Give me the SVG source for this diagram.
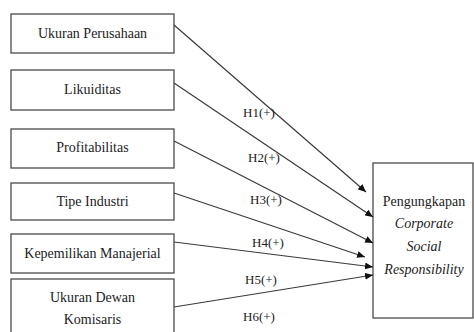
<svg xmlns="http://www.w3.org/2000/svg" width="474" height="332" viewBox="0 0 474 332">
<style>
.box{fill:#fff;stroke:#4a4a4a;stroke-width:1.3}
.t{font-family:"Liberation Serif",serif;font-size:14px;fill:#222;text-anchor:middle}
.i{font-style:italic}
.lbl{font-family:"Liberation Serif",serif;font-size:13px;fill:#222}
.c{stroke:#3a3a3a;stroke-width:1.2;fill:none;marker-end:url(#ah)}
</style>
<defs>
<marker id="ah" markerUnits="userSpaceOnUse" markerWidth="9" markerHeight="7" refX="8" refY="3.5" orient="auto">
<path d="M0,0 L8,3.5 L0,7 Z" fill="#111"/>
</marker>
</defs>
<rect width="474" height="332" fill="#fff"/>
<g id="n1"><rect class="box" x="11" y="14" width="163" height="39"/><text class="t" x="92.5" y="38">Ukuran Perusahaan</text></g>
<g id="n2"><rect class="box" x="11" y="70" width="163" height="40"/><text class="t" x="92.5" y="94">Likuiditas</text></g>
<g id="n3"><rect class="box" x="11" y="129" width="163" height="39"/><text class="t" x="92.5" y="152">Profitabilitas</text></g>
<g id="n4"><rect class="box" x="11" y="183" width="163" height="37"/><text class="t" x="92.5" y="206">Tipe Industri</text></g>
<g id="n5"><rect class="box" x="11" y="234" width="163" height="39"/><text class="t" x="92.5" y="258">Kepemilikan Manajerial</text></g>
<g id="n6"><rect class="box" x="11" y="279" width="163" height="60"/><text class="t" x="92.5" y="302">Ukuran Dewan</text><text class="t" x="92.5" y="324">Komisaris</text></g>
<g id="n7"><rect class="box" x="373" y="163" width="100" height="155"/>
<text class="t" x="424" y="206">Pengungkapan</text>
<text class="t i" x="424" y="228">Corporate</text>
<text class="t i" x="424" y="251">Social</text>
<text class="t i" x="424" y="274">Responsibility</text></g>
<g id="connectors">
<line class="c" x1="174" y1="25" x2="366" y2="192"/>
<line class="c" x1="174" y1="83" x2="373" y2="217"/>
<line class="c" x1="174" y1="141" x2="373" y2="243"/>
<line class="c" x1="174" y1="193" x2="365" y2="257"/>
<line class="c" x1="174" y1="242" x2="373" y2="267"/>
<line class="c" x1="174" y1="307" x2="373" y2="275"/>
</g>
<g id="labels">
<text class="lbl" x="243" y="117">H1(+)</text>
<text class="lbl" x="248" y="162">H2(+)</text>
<text class="lbl" x="250" y="204">H3(+)</text>
<text class="lbl" x="252" y="247">H4(+)</text>
<text class="lbl" x="245" y="284">H5(+)</text>
<text class="lbl" x="243" y="321">H6(+)</text>
</g>
</svg>
